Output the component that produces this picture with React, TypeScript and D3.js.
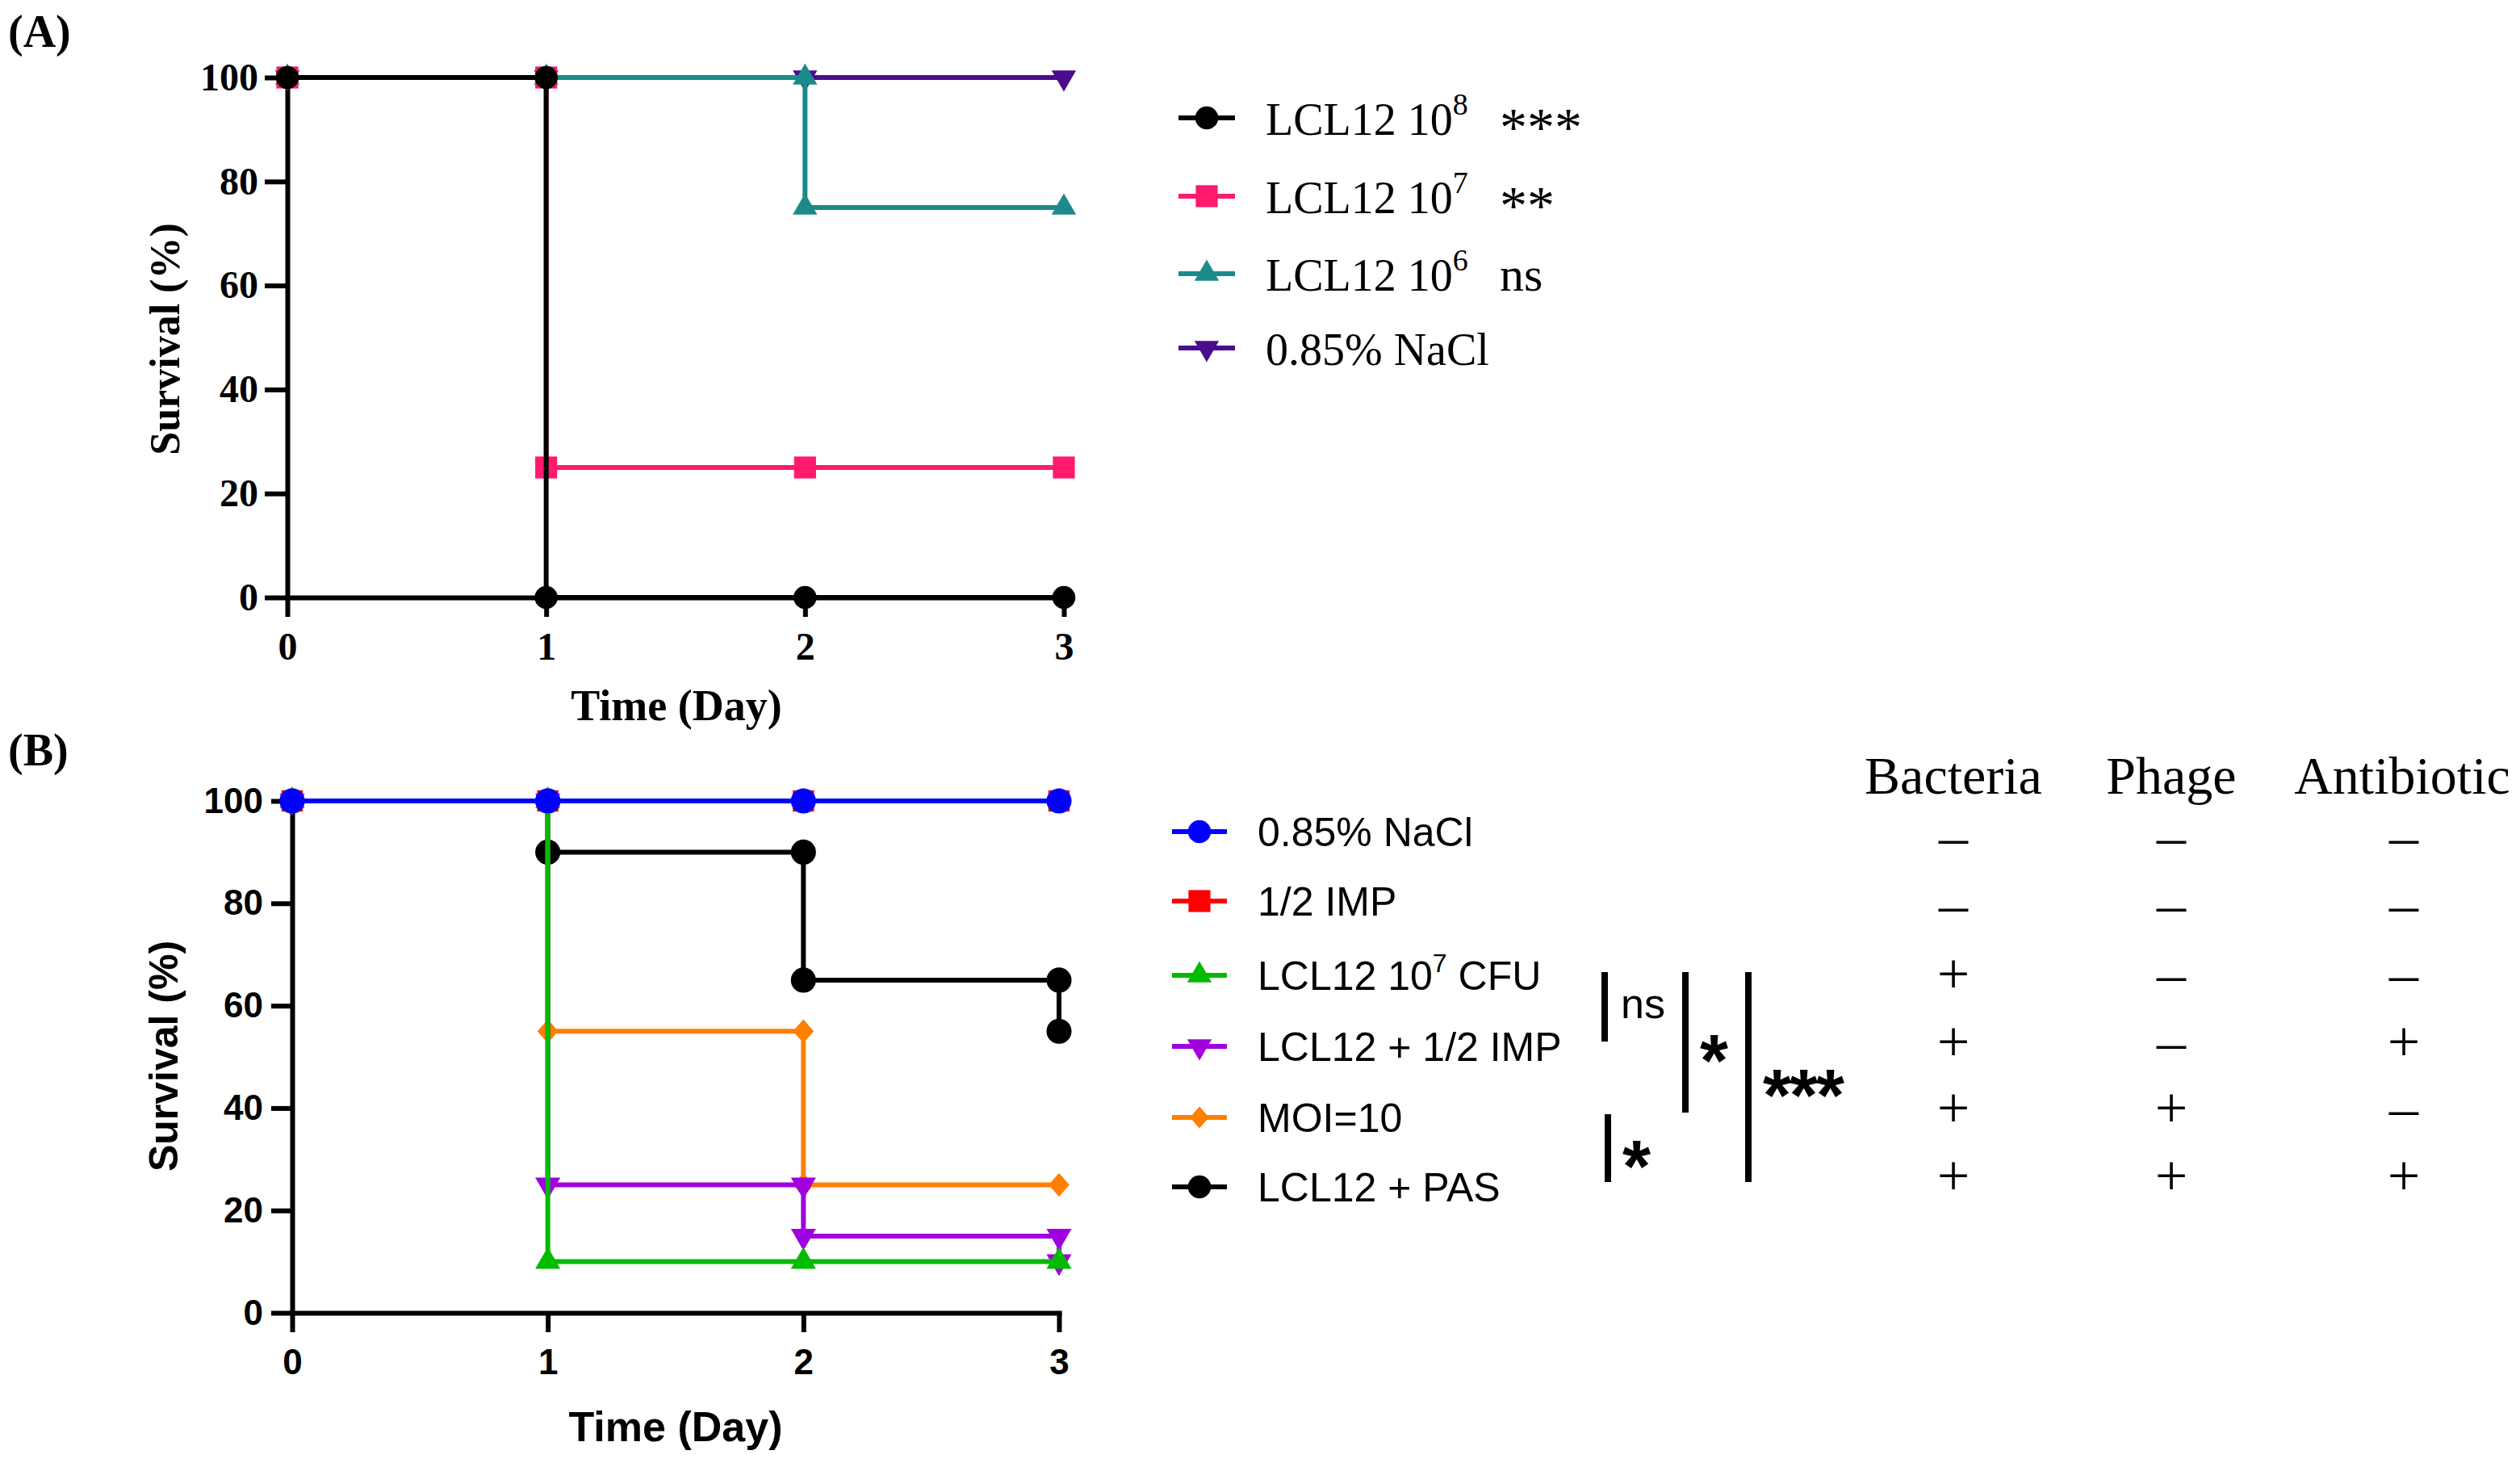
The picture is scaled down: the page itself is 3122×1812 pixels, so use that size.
import React, { useEffect, useRef } from 'react';
import * as d3 from 'd3';

// ---- data ----
const days = [0, 1, 2, 3];
const survivalTicks = [0, 20, 40, 60, 80, 100];

// panel A: LCL12 dose challenge
const doseNames = ['LCL12 10', 'LCL12 10', 'LCL12 10', '0.85% NaCl'];
const doseExp = ['8', '7', '6', ''];
const doseSig = ['***', '**', 'ns', ''];
const doseColors = ['#000000', '#FF1A6E', '#1B8A8A', '#4B0D8C'];
const doseSymbols = ['circle', 'square', 'triangle', 'triangleDown'];
const dose1e8 = [[0, 100], [1, 100], [1, 0], [2, 0], [3, 0]];
const dose1e7 = [[0, 100], [1, 100], [1, 25], [2, 25], [3, 25]];
const dose1e6 = [[0, 100], [1, 100], [2, 100], [2, 75], [3, 75]];
const doseNaCl = [[0, 100], [1, 100], [2, 100], [3, 100]];
const doseSeries = [dose1e8, dose1e7, dose1e6, doseNaCl];
const doseDrawOrder = [3, 2, 1, 0];

// panel B: treatments
const treatNames = ['0.85% NaCl', '1/2 IMP', 'LCL12 10', 'LCL12 + 1/2 IMP', 'MOI=10', 'LCL12 + PAS'];
const treatExp = ['', '', '7', '', '', ''];
const treatSuffix = ['', '', ' CFU', '', '', ''];
const treatColors = ['#0000FF', '#FF0000', '#00BB00', '#A000E0', '#FF7F00', '#000000'];
const treatSymbols = ['circle', 'square', 'triangle', 'triangleDown', 'diamond', 'circle'];
const treatNaCl = [[0, 100], [1, 100], [2, 100], [3, 100]];
const treatImp = [[0, 100], [1, 100], [2, 100], [3, 100]];
const treatCfu = [[0, 100], [1, 100], [1, 10], [2, 10], [3, 10]];
const treatLclImp = [[0, 100], [1, 100], [1, 25], [2, 25], [2, 15], [3, 15], [3, 10]];
const treatMoi = [[0, 100], [1, 100], [1, 55], [2, 55], [2, 25], [3, 25]];
const treatPas = [[0, 100], [1, 100], [1, 90], [2, 90], [2, 65], [3, 65], [3, 55]];
const treatSeries = [treatNaCl, treatImp, treatCfu, treatLclImp, treatMoi, treatPas];
const treatDrawOrder = [1, 5, 4, 3, 2, 0];

// comparisons: [row from, row to, label]
const comparisons: [number, number, string][] = [
  [2, 3, 'ns'],
  [4, 5, '*'],
  [2, 4, '*'],
  [2, 5, '***'],
];

const tableHeads = ['Bacteria', 'Phage', 'Antibiotic'];
const bacteria = ['–', '–', '+', '+', '+', '+'];
const phage = ['–', '–', '–', '–', '+', '+'];
const antibiotic = ['–', '–', '–', '+', '–', '+'];
const tableCols = [bacteria, phage, antibiotic];

const SERIF = '"Liberation Serif", "Times New Roman", serif';
const SANS = '"Liberation Sans", Arial, sans-serif';

const symbolPath = (kind: string, size: number) => {
  if (kind === 'circle') return d3.symbol(d3.symbolCircle, size)()!;
  if (kind === 'square' || kind === 'diamond') return d3.symbol(d3.symbolSquare, size)()!;
  return d3.symbol(d3.symbolTriangle, size)()!;
};
const symbolRot = (kind: string) =>
  kind === 'triangleDown' ? ' rotate(180)' : kind === 'diamond' ? ' scale(1,1.15) rotate(45)' : '';

const Marker: React.FC<{ kind: string; x: number; y: number; color: string; big?: boolean }> = ({ kind, x, y, color, big }) => {
  const sizes: Record<string, number> = big
    ? { circle: 760, square: 700, triangle: 420, triangleDown: 420, diamond: 330 }
    : { circle: 640, square: 740, triangle: 400, triangleDown: 400, diamond: 280 };
  return (
    <path d={symbolPath(kind, sizes[kind])} transform={`translate(${x},${y})${symbolRot(kind)}`} fill={color} />
  );
};

const App: React.FC = () => {
  const axAy = useRef<SVGGElement>(null);
  const axAx = useRef<SVGGElement>(null);
  const axBy = useRef<SVGGElement>(null);
  const axBx = useRef<SVGGElement>(null);

  const xA = d3.scaleLinear().domain([0, 3]).range([356, 1318]);
  const yA = d3.scaleLinear().domain([0, 100]).range([740, 96]);
  const xB = d3.scaleLinear().domain([0, 3]).range([362, 1312]);
  const yB = d3.scaleLinear().domain([0, 100]).range([1626, 992]);

  useEffect(() => {
    const style = (g: d3.Selection<SVGGElement, unknown, null, undefined>, font: string, size: number) => {
      g.select('.domain').attr('stroke', '#000').attr('stroke-width', 6).attr('stroke-linecap', 'square');
      g.selectAll('.tick line').attr('stroke', '#000').attr('stroke-width', 6);
      g.selectAll('.tick text')
        .attr('fill', '#000')
        .attr('font-family', font)
        .attr('font-weight', 'bold')
        .attr('font-size', size);
      g.attr('font-size', null).attr('font-family', null);
    };
    const ay = d3.select(axAy.current!);
    ay.call(d3.axisLeft(yA).tickValues(survivalTicks).tickSize(28).tickSizeOuter(0).tickPadding(8).tickFormat(d3.format('d')));
    style(ay, SERIF, 48);
    const ax = d3.select(axAx.current!);
    ax.call(d3.axisBottom(xA).tickValues(days).tickSize(24).tickSizeOuter(0).tickPadding(19).tickFormat(d3.format('d')));
    style(ax, SERIF, 48);
    const by = d3.select(axBy.current!);
    by.call(d3.axisLeft(yB).tickValues(survivalTicks).tickSize(26).tickSizeOuter(0).tickPadding(10).tickFormat(d3.format('d')));
    style(by, SANS, 44);
    const bx = d3.select(axBx.current!);
    bx.call(d3.axisBottom(xB).tickValues(days).tickSize(24).tickSizeOuter(0).tickPadding(21).tickFormat(d3.format('d')));
    style(bx, SANS, 44);
  }, []);

  const lineA = d3.line<number[]>().x(d => xA(d[0])).y(d => yA(d[1]));
  const lineB = d3.line<number[]>().x(d => xB(d[0])).y(d => yB(d[1]));

  const legendARows = [146, 243, 339, 431];
  const legendBRows = [1030, 1116, 1208, 1296, 1384, 1470];
  const tableRows = [1042, 1126, 1212, 1296, 1378, 1462];
  const headX = [2420, 2690, 2976];
  const tableX = [2420, 2690, 2978];
  const bracketX = [1988, 1992, 2088, 2166];

  return (
    <svg width={3122} height={1812} style={{ position: 'absolute', left: 0, top: 0, background: '#fff' }}>
      {/* ---------- panel A ---------- */}
      <text x={10} y={58} fontFamily={SERIF} fontWeight="bold" fontSize={56}>(A)</text>
      <g ref={axAy} transform={`translate(${xA(0)},0)`} />
      <g ref={axAx} transform={`translate(0,${yA(0)})`} />
      <text transform={`translate(222,420) rotate(-90)`} textAnchor="middle" fontFamily={SERIF} fontWeight="bold" fontSize={52}>
        Survival (%)
      </text>
      <text x={838} y={892} textAnchor="middle" fontFamily={SERIF} fontWeight="bold" fontSize={54}>Time (Day)</text>
      {doseDrawOrder.map(i => (
        <g key={`a${i}`}>
          <path d={lineA(doseSeries[i])!} fill="none" stroke={doseColors[i]} strokeWidth={6} />
          {doseSeries[i].map((p, j) => (
            <Marker key={j} kind={doseSymbols[i]} x={xA(p[0])} y={yA(p[1])} color={doseColors[i]} />
          ))}
        </g>
      ))}
      {doseNames.map((name, i) => (
        <g key={`la${i}`}>
          <line x1={1460} x2={1530} y1={legendARows[i]} y2={legendARows[i]} stroke={doseColors[i]} strokeWidth={6} />
          <Marker kind={doseSymbols[i]} x={1495} y={legendARows[i]} color={doseColors[i]} />
          <text x={1568} y={legendARows[i] + 21} fontFamily={SERIF} fontSize={56}>
            {name}
            {doseExp[i] && <tspan dy={-25} fontSize={38}>{doseExp[i]}</tspan>}
          </text>
          <text x={1858} y={legendARows[i] + (doseSig[i] === 'ns' ? 21 : 34)} fontFamily={SERIF} fontSize={doseSig[i] === 'ns' ? 60 : 68}>
            {doseSig[i]}
          </text>
        </g>
      ))}

      {/* ---------- panel B ---------- */}
      <text x={10} y={948} fontFamily={SERIF} fontWeight="bold" fontSize={56}>(B)</text>
      <g ref={axBy} transform={`translate(${xB(0)},0)`} />
      <g ref={axBx} transform={`translate(0,${yB(0)})`} />
      <text transform={`translate(220,1308) rotate(-90)`} textAnchor="middle" fontFamily={SANS} fontWeight="bold" fontSize={50}>
        Survival (%)
      </text>
      <text x={837} y={1785} textAnchor="middle" fontFamily={SANS} fontWeight="bold" fontSize={52}>Time (Day)</text>
      {treatDrawOrder.map(i => (
        <g key={`b${i}`}>
          <path d={lineB(treatSeries[i])!} fill="none" stroke={treatColors[i]} strokeWidth={6} />
          {treatSeries[i].map((p, j) => (
            <Marker key={j} kind={treatSymbols[i]} x={xB(p[0])} y={yB(p[1])} color={treatColors[i]} big />
          ))}
        </g>
      ))}
      {treatNames.map((name, i) => (
        <g key={`lb${i}`}>
          <line x1={1452} x2={1520} y1={legendBRows[i]} y2={legendBRows[i]} stroke={treatColors[i]} strokeWidth={6} />
          <Marker kind={treatSymbols[i]} x={1486} y={legendBRows[i]} color={treatColors[i]} />
          <text x={1558} y={legendBRows[i] + 18} fontFamily={SANS} fontSize={50}>
            {name}
            {treatExp[i] && <tspan dy={-22} fontSize={32}>{treatExp[i]}</tspan>}
            {treatSuffix[i] && <tspan dy={22}>{treatSuffix[i]}</tspan>}
          </text>
        </g>
      ))}
      {comparisons.map(([a, b, lab], k) => {
        const y1 = legendBRows[a] - 4;
        const y2 = legendBRows[b] - 6;
        const mid = (y1 + y2) / 2;
        const x = bracketX[k];
        return (
          <g key={`c${k}`}>
            <line x1={x} x2={x} y1={y1} y2={y2} stroke="#000" strokeWidth={8} />
            {lab === 'ns' ? (
              <text x={x + 20} y={mid + 14} fontFamily={SANS} fontSize={52}>ns</text>
            ) : (
              <text x={x + 18} y={mid + 54} fontFamily={SANS} fontWeight="bold" fontSize={90} letterSpacing={-2}>{lab}</text>
            )}
          </g>
        );
      })}
      {tableHeads.map((h, c) => (
        <g key={`t${c}`}>
          <text x={headX[c]} y={983} textAnchor="middle" fontFamily={SERIF} fontSize={66}>{h}</text>
          {tableCols[c].map((s, r) => (
            <text key={r} x={tableX[c]} y={tableRows[r] + 18} textAnchor="middle" fontFamily={SERIF} fontSize={72}>{s}</text>
          ))}
        </g>
      ))}
    </svg>
  );
};

export default App;
